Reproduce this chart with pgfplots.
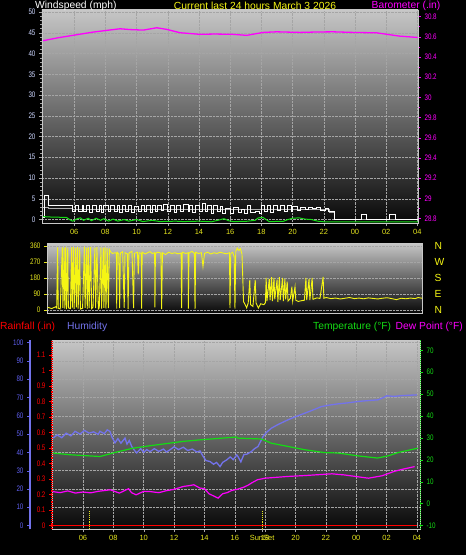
\documentclass[border=0pt]{standalone}
\usepackage{fontspec}
\setmainfont{Liberation Sans}
\newfontfamily\tickfont[FakeStretch=0.78]{Liberation Sans}
\usepackage{pgfplots}
\pgfplotsset{compat=1.18}
\definecolor{xlab}{RGB}{230,230,30}
\definecolor{yel}{RGB}{245,245,20}
\definecolor{ylab}{RGB}{205,215,255}
\definecolor{mag}{RGB}{255,0,255}
\definecolor{hum}{RGB}{115,115,235}
\definecolor{humlab}{RGB}{95,95,240}
\definecolor{tgreen}{RGB}{20,220,20}
\definecolor{gridc}{RGB}{165,165,165}
\definecolor{framec}{RGB}{200,200,200}
\definecolor{bgtop}{RGB}{198,198,198}
\definecolor{bgbot}{RGB}{8,8,8}
\definecolor{avgc}{RGB}{175,175,175}
\newcommand\yfont{\tickfont\fontsize{8}{9}\selectfont}
\newcommand\xfont{\fontsize{7.5}{8}\selectfont}
\newcommand\tfont{\fontsize{10.3}{12}\selectfont}
\pgfplotsset{
  wxbase/.style={
    scale only axis,
    /pgf/number format/assume math mode=true,
    tick align=outside,
    major tick length=3pt,
    minor tick length=1.5pt,
    xticklabel style={font=\xfont, text=xlab},
    yticklabel style={font=\yfont},
    grid style={densely dotted, gridc, line width=0.4pt},
  },
  bgshade/.style={axis background/.style={shade, top color=bgtop, bottom color=bgbot}},
}
\begin{document}
\begin{tikzpicture}[x=1pt,y=1pt]
\fill[black] (0,0) rectangle (466,555);

% ---------------- Panel 1 : wind speed ----------------
\begin{axis}[wxbase, bgshade, at={(42pt,332pt)}, anchor=south west,
  width=376pt, height=213pt,
  xmin=-0.064, xmax=24.04, ymin=-0.84, ymax=50.48,
  xtick={2,4,...,24}, xticklabels={06,08,10,12,14,16,18,20,22,00,02,04},
  ytick={0,5,...,50}, minor y tick num=4,
  xtick pos=bottom, ytick pos=left,
  yticklabel style={text=ylab},
  axis line style={framec, line width=0.8pt},
  tick style={gridc},
  grid=major,
]
\addplot[const plot, avgc, line width=1pt] coordinates {
(0,3.0) (0.35,2.6) (1.9,2.3) (18.35,1.7) (18.7,0) (24.04,0)};
\addplot[const plot, white, line width=0.9pt] coordinates {
(0,0.5) (0.12,5.7) (0.35,3.5) (1.9,2.0) (2.1,3.5) (2.3,2.0) (2.5,3.3) (2.6,2.0) (2.8,3.5) (3.0,1.8)
(3.15,3.4) (3.4,2.0) (3.6,3.5) (3.75,1.6) (3.9,3.3) (4.2,2.0) (4.35,3.5) (4.6,2.0) (4.75,3.3) (4.9,1.8)
(5.1,3.5) (5.3,2.0) (5.5,3.4) (5.7,1.6) (5.85,3.2) (6.1,2.0) (6.3,3.5) (6.5,2.0) (6.6,3.3) (6.9,1.8)
(7.0,3.5) (7.2,2.0) (7.35,3.3) (7.6,2.1) (7.75,3.6) (8.0,2.0) (8.2,3.5) (8.4,1.8) (8.55,3.4) (8.8,2.0)
(9.0,3.6) (9.3,2.0) (9.4,3.5) (9.6,1.6) (9.8,3.3) (10.0,2.0) (10.2,3.8) (10.4,2.0) (10.55,3.4) (10.8,1.5)
(10.9,3.5) (11.2,2.0) (11.35,3.2) (11.5,1.4) (11.7,2.6) (12.0,1.5) (12.2,2.8) (12.5,1.6) (12.7,2.5) (12.9,1.5)
(13.1,3.3) (13.3,1.6) (13.6,2.0) (13.9,1.4) (14.0,3.4) (14.2,2.0) (14.4,3.3) (14.6,1.6) (14.8,3.4) (15.0,2.2)
(15.2,3.3) (15.5,2.0) (15.7,3.3) (15.9,2.0) (16.0,3.1) (16.3,2.2) (16.5,3.0) (16.8,2.5) (17.0,3.0) (17.3,2.6)
(17.5,2.8) (17.8,2.3) (18.1,2.6) (18.3,1.9) (18.7,0) (20.4,1.1) (20.75,0) (22.2,1.1) (22.6,0) (24.04,0)};
\addplot[tgreen, line width=1pt] coordinates {
(0,0.7) (0.5,0.6) (1.0,0.55) (1.5,0.5) (1.7,0.0) (1.9,-0.4) (2.2,0.2) (2.4,0.4) (2.6,-0.2) (2.9,0.3)
(3.1,-0.3) (3.4,0.3) (3.7,-0.2) (3.9,0.2) (4.2,-0.4) (4.5,0.1) (4.8,-0.4) (5.2,0.0) (5.5,-0.4) (6.0,0.0)
(6.4,-0.5) (7.0,-0.2) (7.5,-0.5) (8.5,-0.4) (9.0,-0.5) (10.0,-0.4) (10.8,-0.55) (11.2,-0.2) (11.6,0.2)
(11.9,-0.3) (12.2,-0.5) (13.0,-0.45) (13.6,-0.2) (13.8,0.4) (14.1,0.5) (14.3,0.0) (14.5,-0.5) (15.4,-0.45)
(15.7,0.0) (16.0,0.3) (16.4,0.4) (16.8,0.1) (17.2,0.0) (17.6,-0.4) (18.0,-0.55) (24.04,-0.55)};
\end{axis}

% barometer
\begin{axis}[wxbase, at={(42pt,332pt)}, anchor=south west,
  width=376pt, height=213pt,
  xmin=-0.064, xmax=24.04, ymin=28.755, ymax=30.864,
  hide x axis, axis y line*=right,
  y axis line style={framec, line width=0.8pt, -},
  ytick={28.8,29,29.2,29.4,29.6,29.8,30,30.2,30.4,30.6,30.8},
  minor y tick num=1,
  yticklabel style={text=mag},
  ytick style={mag},
]
\addplot[mag, line width=1.3pt] coordinates {
(0,30.560) (1.0,30.590) (2.16,30.619) (3.2,30.645) (4.08,30.662) (4.94,30.678) (5.6,30.670) (6.43,30.665)
(7.29,30.688) (7.93,30.672) (8.78,30.639) (10.06,30.623) (11.0,30.626) (12.18,30.623) (13.06,30.613)
(14.12,30.642) (14.98,30.648) (16.47,30.642) (17.5,30.646) (18.59,30.648) (19.87,30.642) (21.39,30.638)
(22.2,30.620) (22.88,30.605) (24.02,30.592)};
\end{axis}

% ---------------- Panel 2 : wind direction ----------------
\begin{axis}[wxbase, bgshade, at={(47pt,242pt)}, anchor=south west,
  width=375pt, height=69.5pt,
  xmin=0, xmax=24.04, ymin=-17, ymax=374,
  xtick=\empty, ytick={0,90,180,270,360}, ytick pos=left,
  yticklabel style={text=xlab}, ytick style={xlab},
  axis line style={framec, line width=0.8pt},
  ymajorgrids,
]
\addplot[yel, line width=0.9pt] coordinates {
(0.05,15) (0.3,8) (0.55,18) (0.62,12) (0.68,352) (0.72,10) (0.85,6) (0.98,355) (1.02,12) (1.1,350)
(1.14,8) (1.2,356) (1.25,5) (1.33,350) (1.37,12) (1.5,8) (1.58,352) (1.62,10) (1.7,355) (1.74,6)
(1.84,350) (1.88,14) (1.96,354) (2.0,8) (2.1,350) (2.14,5) (2.28,10) (2.4,356) (2.44,12) (2.54,350)
(2.58,6) (2.65,352) (2.7,10) (2.8,355) (2.86,8) (2.95,15) (3.07,350) (3.12,10) (3.2,354) (3.29,6)
(3.35,12) (3.46,352) (3.5,8) (3.61,350) (3.65,12) (3.72,355) (3.78,8) (3.86,348) (3.93,10) (4.0,340)
(4.1,325) (4.2,318) (4.35,322) (4.45,320) (4.47,8) (4.5,325) (4.6,315) (4.66,10) (4.7,320) (4.85,328)
(4.95,12) (5.0,322) (5.15,316) (5.2,5) (5.25,320) (5.45,330) (5.55,10) (5.6,318) (5.8,325) (5.85,200)
(5.9,322) (6.05,318) (6.07,8) (6.1,325) (6.3,315) (6.4,320) (6.6,328) (6.75,318) (6.9,322) (6.92,15)
(6.95,318) (7.1,325) (7.3,320) (7.35,5) (7.4,322) (7.6,312) (7.8,325) (8.0,318) (8.2,322) (8.4,316)
(8.6,320) (8.63,10) (8.67,325) (8.9,318) (9.05,322) (9.06,8) (9.1,320) (9.3,330) (9.45,318) (9.49,5)
(9.53,325) (9.7,318) (9.9,322) (10.0,245) (10.1,318) (10.3,325) (10.5,315) (10.7,322) (10.9,318) (11.1,325)
(11.3,320) (11.5,316) (11.7,322) (11.73,10) (11.78,318) (11.9,325) (12.0,300) (12.05,8) (12.1,330) (12.2,348)
(12.3,335) (12.4,345) (12.5,315) (12.6,47) (12.7,30) (12.8,12) (12.9,40) (13.0,169) (13.05,30) (13.2,20)
(13.35,169) (13.4,40) (13.55,11) (13.7,35) (13.9,30) (14.0,40) (14.05,180) (14.1,50) (14.25,175) (14.3,55)
(14.4,185) (14.45,50) (14.55,180) (14.6,60) (14.75,170) (14.8,45) (14.9,185) (14.95,55) (15.1,180) (15.15,50)
(15.25,175) (15.3,60) (15.4,160) (15.45,50) (15.6,65) (15.7,131) (15.75,50) (15.9,131) (15.95,55) (16.1,48)
(16.3,52) (16.5,55) (16.6,180) (16.65,56) (16.8,175) (16.85,55) (17.0,180) (17.05,60) (17.3,68) (17.5,65)
(17.7,186) (17.75,66) (17.9,70) (18.2,64) (18.5,67) (18.8,62) (19.1,66) (19.4,70) (19.7,64) (20.0,67)
(20.3,63) (20.6,68) (20.9,65) (21.2,62) (21.5,66) (21.8,69) (22.1,64) (22.4,58) (22.7,66) (23.0,63)
(23.3,67) (23.6,64) (23.8,70) (24.04,66)};
\end{axis}
\begin{axis}[wxbase, at={(47pt,242pt)}, anchor=south west,
  width=375pt, height=69.5pt,
  xmin=0, xmax=24.04, ymin=-17, ymax=374,
  hide x axis, axis y line*=right, y axis line style={draw=none},
  ytick={0,90,180,270,360}, yticklabels={N,E,S,W,N},
  major tick length=0pt,
  yticklabel style={font=\tfont, text=yel, xshift=9pt},
]
\end{axis}

% ---------------- Panel 3 : humidity / rain / temperature ----------------
\begin{axis}[wxbase, bgshade, at={(52pt,26pt)}, anchor=south west,
  width=368pt, height=189pt,
  xmin=-0.04, xmax=24.2, ymin=-1.9, ymax=101.4,
  xtick={2,4,...,24}, xticklabels={06,08,10,12,14,16,18,20,22,00,02,04},
  extra x ticks={13.8}, extra x tick labels={SunSet},
  extra x tick style={grid=none},
  xtick pos=bottom,
  ytick={0,10,...,100}, yticklabels={}, ytick style={draw=none},
  tick style={gridc},
  axis line style={framec, line width=0.8pt},
  grid=major,
]
\addplot[xlab, densely dotted, line width=0.9pt] coordinates {(2.4,-1.9) (2.4,8)};
\addplot[xlab, densely dotted, line width=0.9pt] coordinates {(13.8,-1.9) (13.8,8)};
\addplot[hum, line width=1.3pt] coordinates {
(0.03,47.8) (0.3,49.5) (0.6,48) (0.9,50.5) (1.2,49) (1.48,51.5) (1.8,50) (2.1,52) (2.4,50.5) (2.7,51.2)
(3.0,49.8) (3.12,51.5) (3.4,50.2) (3.6,52.3) (3.78,51.4) (3.9,48.5) (4.11,45.2) (4.3,47.5) (4.5,45) (4.77,47.8)
(4.9,44.5) (5.05,46.5) (5.21,43.2) (5.4,41) (5.54,39.7) (5.8,42) (6.0,40) (6.2,41.5) (6.42,40.4) (6.7,42)
(7.0,40.5) (7.3,41.8) (7.5,40.2) (7.73,41.4) (8.0,43) (8.3,41.5) (8.61,42.8) (8.9,41) (9.2,41.8) (9.5,40.2)
(9.71,40.8) (9.9,38) (10.1,35.5) (10.37,35) (10.6,33.5) (10.8,34.5) (11.03,32.2) (11.2,34.5) (11.47,35.9)
(11.7,37.5) (11.9,36) (12.13,38.6) (12.21,37.7) (12.4,34.8) (12.6,38.8) (12.8,39) (13.09,40.4) (13.3,42)
(13.53,43.2) (13.7,46) (13.86,48.6) (14.1,51) (14.41,53.2) (14.8,55) (15.1,56.2) (15.51,57.8) (16.0,59.5)
(16.61,61.4) (17.2,63.3) (17.7,65) (18.2,65.8) (18.8,66.5) (19.4,67) (20.12,67.8) (20.8,68.3) (21.44,68.7)
(21.8,70) (22.01,70.9) (22.5,70.6) (23.0,71) (23.5,71.2) (23.99,71.4)};
\end{axis}

% rainfall
\begin{axis}[wxbase, at={(52pt,26pt)}, anchor=south west,
  width=368pt, height=189pt,
  xmin=-0.04, xmax=24.2, ymin=-0.0226, ymax=1.197,
  hide x axis, axis y line*=left,
  y axis line style={red, densely dotted, line width=1.2pt, -},
  ytick={0,0.1,0.2,0.3,0.4,0.5,0.6,0.7,0.8,0.9,1,1.1,1.2},
  yticklabel style={text=red}, ytick style={red},
]
\addplot[red, line width=1.6pt] coordinates {(-0.04,0) (24.0,0)};
\end{axis}

% temperature / dew point
\begin{axis}[wxbase, at={(52pt,26pt)}, anchor=south west,
  width=368pt, height=189pt,
  xmin=-0.04, xmax=24.2, ymin=-11.6, ymax=74.7,
  hide x axis, axis y line*=right,
  y axis line style={tgreen, densely dotted, line width=1pt, -},
  ytick={-10,0,10,20,30,40,50,60,70},
  yticklabel style={text=tgreen}, ytick style={tgreen},
]
\addplot[tgreen, line width=1.2pt] coordinates {
(0,23.1) (1.15,22.3) (3.12,21.5) (4.2,23.5) (5.3,25.3) (6.4,26.4) (8.6,28.4) (9.7,29.1) (12.1,30.4)
(12.2,29.9) (13.75,29.5) (14.4,27.6) (15.5,26.1) (16.6,24.6) (17.9,23.3) (18.8,23.1) (20.1,21.8)
(21.4,20.8) (22.1,21.8) (22.75,23.3) (24.05,25.3)};
\addplot[mag, line width=1.2pt] coordinates {
(0,5.5) (0.5,5.0) (1.0,5.8) (1.5,4.8) (2.0,5.3) (2.5,4.9) (3.0,5.6) (3.8,6.3) (4.4,4.8) (5.0,6.8)
(5.2,5.0) (5.5,4.0) (6.0,5.6) (6.4,5.5) (7.0,5.0) (7.5,5.9) (8.0,6.5) (8.6,7.8) (9.0,8.2) (9.3,8.6)
(9.7,7.1) (10.0,6.8) (10.3,4.5) (10.6,3.5) (10.9,2.5) (11.2,4.5) (11.5,5.0) (11.8,6.0) (12.2,6.6)
(12.6,7.5) (12.9,8.5) (13.1,9.4) (13.5,10.9) (14.0,11.6) (15.5,12.4) (16.6,12.8) (18.4,13.6) (19.2,13.1)
(20.8,11.6) (21.7,12.7) (22.5,14.7) (23.0,15.6) (23.85,16.9)};
\end{axis}

% humidity ruler
\begin{axis}[wxbase, at={(30pt,26pt)}, anchor=south west,
  width=1pt, height=189pt,
  xmin=0, xmax=1, ymin=-1.9, ymax=101.4,
  hide x axis, axis y line*=left,
  y axis line style={hum, line width=2pt, -},
  ytick={0,10,...,100},
  yticklabel style={text=humlab}, ytick style={humlab},
]
\end{axis}

% titles
\node[anchor=west, text=white, font=\tfont, inner sep=0pt] at (35,549.5) {Windspeed (mph)};
\node[anchor=center, text=yel, font=\tfont, inner sep=0pt] at (255,549.5) {Current last 24 hours March 3 2026};
\node[anchor=center, text=mag, font=\tfont, inner sep=0pt] at (406,549.5) {Barometer (.in)};
\node[anchor=west, text=red, font=\tfont, inner sep=0pt] at (0,228.3) {Rainfall (.in)};
\node[anchor=west, text=hum, font=\tfont, inner sep=0pt] at (67,228.3) {Humidity};
\node[anchor=west, text=tgreen, font=\tfont, inner sep=0pt] at (313,228.3) {Temperature (°F)};
\node[anchor=east, text=mag, font=\tfont, inner sep=0pt] at (463,228.3) {Dew Point (°F)};

\pgfresetboundingbox
\path[use as bounding box] (0,0) rectangle (466,555);
\end{tikzpicture}
\end{document}
